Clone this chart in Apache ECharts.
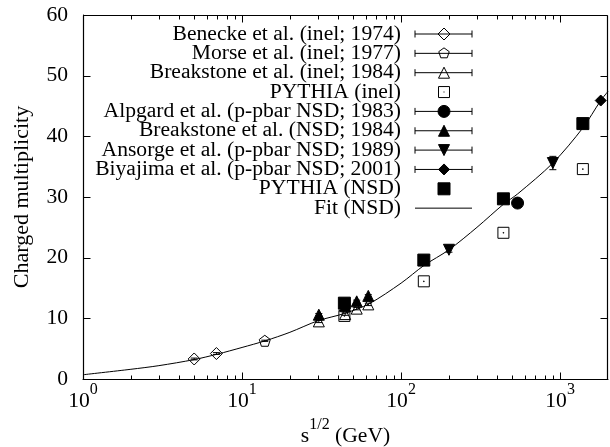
<!DOCTYPE html>
<html><head><meta charset="utf-8">
<script src="https://cdn.jsdelivr.net/npm/echarts@6/dist/echarts.min.js"></script>
<style>html,body{margin:0;padding:0;background:#fff}#c{width:610px;height:447px}</style>
</head><body><div id="c"></div>
<script>
// ---- tick values ----
const xTicks = [1, 10, 100, 1000];
const minorTicks = [2,3,4,5,6,7,8,9,20,30,40,50,60,70,80,90,200,300,400,500,600,700,800,900];
const yTicks = [0, 10, 20, 30, 40, 50, 60];

// ---- data: [sqrt(s) GeV, multiplicity, error] ----
const benecke   = [[5.0, 3.3, 0.15], [6.9, 4.2, 0.15]];
const morse     = [[13.9, 6.3, 0.1]];
const breakInel = [[30.4, 9.5, 0.2], [44.5, 10.7, 0.2], [52.6, 11.6, 0.2], [62.2, 12.3, 0.2]];
const pythiaInel= [[44, 10.4], [139, 16.1], [440, 24.1], [1390, 34.6]];
const alpgard   = [[540, 29.0, 0.3]];
const breakNSD  = [[30.4, 10.6, 0.2], [44.5, 12.0, 0.2], [52.6, 12.8, 0.2], [62.2, 13.7, 0.2]];
const ansorge   = [[200, 21.3, 0.4], [900, 35.6, 1.1]];
const biyajima  = [[1800, 45.9, 0.3]];
const pythiaNSD = [[44, 12.5], [139, 19.6], [440, 29.7], [1390, 42.1]];
const fitX = [1, 2, 3, 5, 7, 10, 14, 20, 30, 44, 63, 100, 139, 200, 300, 440, 540, 900, 1390, 1800, 2000];
const fitY = [0.7, 1.6, 2.2, 3.2, 4.1, 5.2, 6.3, 7.7, 9.6, 10.8, 12.4, 15.8, 18.7, 21.3, 25.0, 28.8, 30.5, 35.6, 41.4, 45.9, 47.4];

const FONT = 'Liberation Serif';
const entries = [
  {name:'Benecke et al. (inel; 1974)', data:benecke, kind:'diamond', size:12, filled:false, err:true},
  {name:'Morse et al. (inel; 1977)', data:morse, kind:'pentagon', size:11, filled:false, err:true},
  {name:'Breakstone et al. (inel; 1984)', data:breakInel, kind:'triangle', size:11, filled:false, err:true},
  {name:'PYTHIA (inel)', data:pythiaInel, kind:'rectDot', size:11, filled:false, err:false},
  {name:'Alpgard et al. (p-pbar NSD; 1983)', data:alpgard, kind:'circle', size:12, filled:true, err:true},
  {name:'Breakstone et al. (NSD; 1984)', data:breakNSD, kind:'triangle', size:11, filled:true, err:true},
  {name:'Ansorge et al. (p-pbar NSD; 1989)', data:ansorge, kind:'triangleDown', size:11, filled:true, err:true},
  {name:'Biyajima et al. (p-pbar NSD; 2001)', data:biyajima, kind:'diamond', size:11, filled:true, err:true},
  {name:'PYTHIA (NSD)', data:pythiaNSD, kind:'rect', size:12, filled:true, err:false},
  {name:'Fit (NSD)', kind:'line'}
];

const symbolMap = {
  diamond: 'diamond',
  pentagon: 'path://M0,-1L0.951,-0.309L0.588,0.809L-0.588,0.809L-0.951,-0.309Z',
  triangle: 'triangle',
  triangleDown: 'triangle',
  rectDot: 'path://M-1,-1H1V1H-1Z M-0.06,-0.06H0.06V0.06H-0.06Z',
  circle: 'circle',
  rect: 'rect'
};

function errRender(params, api) {
  const x = api.value(0), y = api.value(1), e = api.value(2);
  const t = api.coord([x, y + e]), b = api.coord([x, y - e]);
  const w = 3.5, st = {stroke:'#000', lineWidth:1};
  return {type:'group', children:[
    {type:'line', shape:{x1:t[0], y1:t[1], x2:b[0], y2:b[1]}, style:st},
    {type:'line', shape:{x1:t[0]-w, y1:t[1], x2:t[0]+w, y2:t[1]}, style:st},
    {type:'line', shape:{x1:b[0]-w, y1:b[1], x2:b[0]+w, y2:b[1]}, style:st}
  ]};
}
// tick marks drawn from the axis scales (one item per tick value)
function tickRender(params, api) {
  const v = api.value(0), len = api.value(1), isY = api.value(2);
  const st = {stroke:'#000', lineWidth:1};
  if (isY) {
    const y = Math.round(api.coord([1, v])[1]) + 0.5;
    const L = Math.round(api.coord([1, 0])[0]) + 0.5, R = Math.round(api.coord([2000, 0])[0]) - 0.5;
    return {type:'group', children:[
      {type:'line', shape:{x1:L, y1:y, x2:L+len, y2:y}, style:st},
      {type:'line', shape:{x1:R, y1:y, x2:R-len, y2:y}, style:st}]};
  }
  const x = Math.round(api.coord([v, 0])[0]) + 0.5;
  const B = Math.round(api.coord([1, 0])[1]) + 0.5, T = Math.round(api.coord([1, 60])[1]) + 0.5;
  return {type:'group', children:[
    {type:'line', shape:{x1:x, y1:B, x2:x, y2:B-len}, style:st},
    {type:'line', shape:{x1:x, y1:T, x2:x, y2:T+len}, style:st}]};
}
const tickData = [].concat(
  xTicks.map(v => [v, 7, 0]),
  minorTicks.map(v => [v, 4, 0]),
  yTicks.map(v => [v, 7, 1]));

const series = [];
series.push({type:'custom', renderItem:tickRender, data:tickData, dimensions:['v','len','isY'],
  encode:{}, silent:true, z:5, clip:false});
series.push({type:'line', data:fitX.map((x,i)=>[x, fitY[i]]), smooth:0.3, showSymbol:false, symbol:'none',
  lineStyle:{color:'#000', width:1}, z:2, silent:true});
entries.forEach(en => {
  if (en.kind === 'line') return;
  if (en.err) series.push({type:'custom', renderItem:errRender, data:en.data, encode:{x:0, y:1}, z:3, silent:true});
  series.push({type:'scatter', name:en.name, data:en.data, encode:{x:0, y:1},
    symbol:symbolMap[en.kind], symbolSize:en.size, symbolRotate: en.kind==='triangleDown'?180:0,
    itemStyle:{color: en.filled?'#000':'rgba(0,0,0,0)', borderColor:'#000', borderWidth:1, opacity:1},
    z:4, silent:true});
});

// ---- legend and frame drawn as graphic ----
function markerGraphic(kind, cx, cy, s, filled) {
  const style = {fill: filled?'#000':'none', stroke:'#000', lineWidth:1};
  const h = s/2;
  if (kind==='diamond') return {type:'polygon', shape:{points:[[cx,cy-h],[cx+h,cy],[cx,cy+h],[cx-h,cy]]}, style};
  if (kind==='triangle') return {type:'polygon', shape:{points:[[cx,cy-h],[cx+h,cy+h],[cx-h,cy+h]]}, style};
  if (kind==='triangleDown') return {type:'polygon', shape:{points:[[cx,cy+h],[cx+h,cy-h],[cx-h,cy-h]]}, style};
  if (kind==='pentagon') {
    const pts = []; for (let k=0;k<5;k++){const a=-Math.PI/2+k*2*Math.PI/5; pts.push([cx+h*Math.cos(a), cy+h*Math.sin(a)]);}
    return {type:'polygon', shape:{points:pts}, style};
  }
  if (kind==='circle') return {type:'circle', shape:{cx, cy, r:h}, style};
  if (kind==='rect') return {type:'rect', shape:{x:cx-h, y:cy-h, width:s, height:s}, style};
  if (kind==='rectDot') return {type:'group', children:[
    {type:'rect', shape:{x:cx-h, y:cy-h, width:s, height:s}, style},
    {type:'rect', shape:{x:cx-0.5, y:cy-0.5, width:1, height:1}, style:{fill:'#000'}}]};
}
const GRID = {left:83, right:2, top:15, bottom:68};
const fL = GRID.left + 0.5, fR = 610 - GRID.right - 0.5, fT = GRID.top + 0.5, fB = 447 - GRID.bottom + 0.5;
const graphics = [];
const fst = {stroke:'#000', lineWidth:1.2};
[[fL,fT,fR,fT],[fL,fB,fR,fB],[fL,fT,fL,fB],[fR,fT,fR,fB]].forEach(s => graphics.push(
  {type:'line', z:100, silent:true, shape:{x1:s[0], y1:s[1], x2:s[2], y2:s[3]}, style:fst}));
const lgTextX = 401, lgX1 = 415, lgX2 = 472, lgMX = 444, lgY0 = 34, lgDY = 19.35;
entries.forEach((en, i) => {
  const y = lgY0 + i*lgDY;
  graphics.push({type:'text', x:lgTextX, y:y, style:{text:en.name, fontFamily:FONT, fontSize:21.6, fill:'#000', align:'right', verticalAlign:'middle'}});
  const st = {stroke:'#000', lineWidth:1};
  if (en.kind==='line' || en.err) graphics.push({type:'line', shape:{x1:lgX1, y1:y, x2:lgX2, y2:y}, style:st});
  if (en.err) {
    graphics.push({type:'line', shape:{x1:lgX1, y1:y-3.5, x2:lgX1, y2:y+3.5}, style:st});
    graphics.push({type:'line', shape:{x1:lgX2, y1:y-3.5, x2:lgX2, y2:y+3.5}, style:st});
  }
  if (en.kind!=='line') graphics.push(markerGraphic(en.kind, lgMX, y, en.size, en.filled));
});

function xFmt(v) {
  const e = Math.log10(v);
  if (Math.abs(e - Math.round(e)) > 1e-6 || xTicks.indexOf(Math.round(v)) < 0) return '';
  return '{b|10}{s|' + Math.round(e) + '}';
}
const richSup = {
  b:{fontFamily:FONT, fontSize:21.6, color:'#000', verticalAlign:'bottom'},
  s:{fontFamily:FONT, fontSize:16, color:'#000', verticalAlign:'bottom', padding:[0,0,14,0]}
};
const axLine = {show:true, onZero:false, lineStyle:{color:'#000', width:1}};
const chart = echarts.init(document.getElementById('c'));
chart.setOption({
  animation:false,
  backgroundColor:'#fff',
  grid:{left:GRID.left, right:GRID.right, top:GRID.top, bottom:GRID.bottom, containLabel:false, outerBoundsMode:'none'},
  xAxis:[{type:'log', logBase:10, min:1, max:2000, position:'bottom',
      axisLine:axLine, axisTick:{show:false},
      splitLine:{show:false}, minorTick:{show:false},
      axisLabel:{formatter:xFmt, margin:3, color:'#000', showMaxLabel:false, rich:richSup},
      name:'{b|s}{s|1/2}{b| (GeV)}', nameLocation:'middle', nameGap:35,
      nameTextStyle:{rich:richSup}}],
  yAxis:[{type:'value', min:0, max:60, interval:10, position:'left',
      axisLine:axLine, axisTick:{show:false},
      splitLine:{show:false},
      axisLabel:{color:'#000', fontFamily:FONT, fontSize:21.6, margin:15},
      name:'Charged multiplicity', nameLocation:'middle', nameGap:50,
      nameTextStyle:{fontFamily:FONT, fontSize:22, color:'#000'}}],
  series: series,
  graphic: graphics
});
</script></body></html>
